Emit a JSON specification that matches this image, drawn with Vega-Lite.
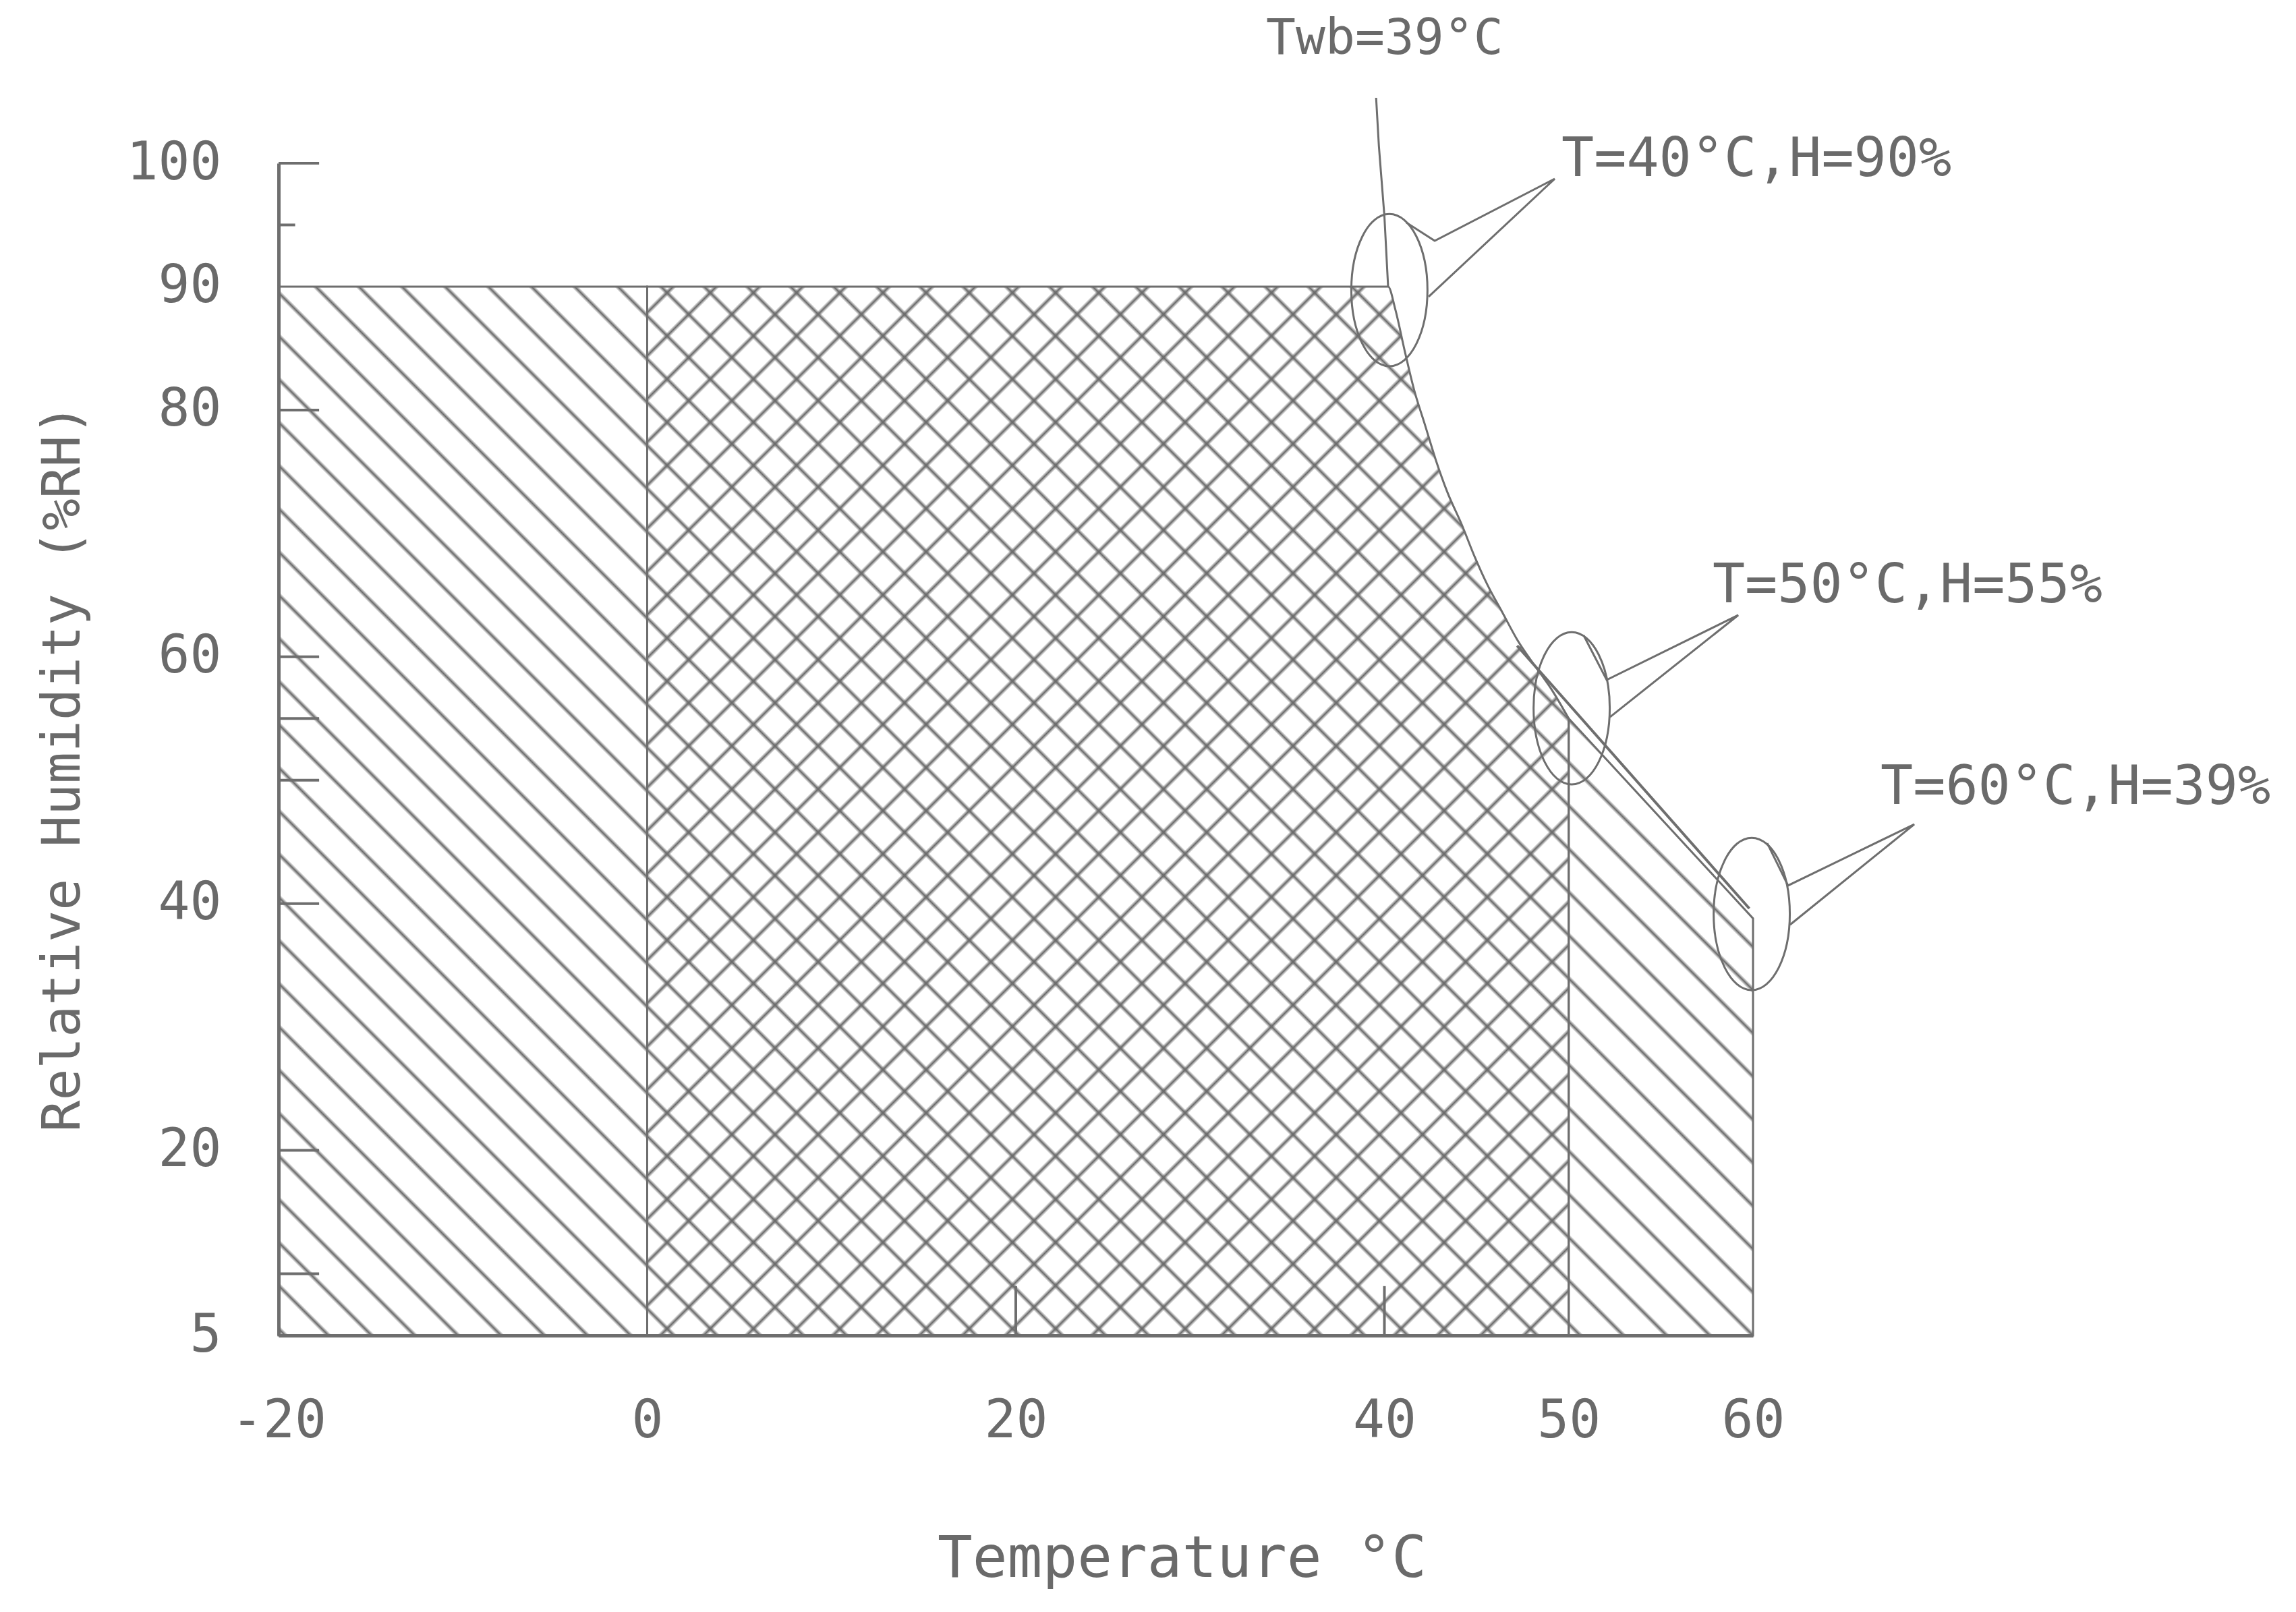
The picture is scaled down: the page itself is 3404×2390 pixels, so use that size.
{
"$schema":"https://vega.github.io/schema/vega-lite/v6.json",
"width":2186,"height":1738,
"autosize":{"type":"none"},
"padding":{"left":413,"top":242,"right":805,"bottom":410},
"background":"white",
"config":{"view":{"stroke":null}},
"datasets":{
"curve":[{"x":0,"y":90},{"x":40.2,"y":90},{"x":40.6,"y":88.1},{"x":41.1,"y":84.8},{"x":41.6,"y":81.7},{"x":42.2,"y":78.8},{"x":42.8,"y":75.9},{"x":43.4,"y":73.4},{"x":44.2,"y":70.7},{"x":44.9,"y":68.1},{"x":45.6,"y":65.8},{"x":46.4,"y":63.6},{"x":47.2,"y":61.4},{"x":48.1,"y":59.4},{"x":49.05,"y":57.4},{"x":50,"y":55}]
},
"encoding":{
"x":{"field":"x","type":"quantitative","scale":{"domain":[-20,60],"nice":false,"zero":false},
"axis":{"values":[-20,0,20,40,50,60],"labelExpr":"'' + datum.value","ticks":false,"grid":false,"domain":true,"domainColor":"#6e6e6e","domainWidth":5,"labelFont":"DejaVu Sans Mono","labelFontSize":78,"labelColor":"#6a6a6a","labelPadding":88,"labelFlush":false,"labelOverlap":false,"labelBound":false,
"title":"Temperature °C","titleFont":"DejaVu Sans Mono","titleFontSize":86,"titleFontWeight":"normal","titleColor":"#6a6a6a","titleX":1339,"titleY":357,"titleAlign":"center","titleBaseline":"alphabetic"}},
"y":{"field":"y","type":"quantitative","scale":{"domain":[5,100],"nice":false,"zero":false},
"axis":{"values":[5,20,40,60,80,90,100],"ticks":false,"grid":false,"domain":true,"domainColor":"#6e6e6e","domainWidth":5,"labelFont":"DejaVu Sans Mono","labelFontSize":78,"labelColor":"#6a6a6a","labelPadding":85,"labelFlush":false,"labelOverlap":false,"labelBound":false,"labelBaseline":"middle",
"title":"Relative Humidity (%RH)","titleFont":"DejaVu Sans Mono","titleFontSize":78,"titleFontWeight":"normal","titleColor":"#6a6a6a","titleX":-296,"titleY":896,"titleAngle":270,"titleAlign":"center","titleBaseline":"alphabetic"}}
},
"layer":[
{"data":{"values":[{"x":-20,"x2":0,"y":90,"y2":5}]},
"mark":{"type":"rect","stroke":"#6e6e6e","strokeWidth":3,"fill":{"gradient":"linear","x1":0,"y1":1,"x2":0.42272,"y2":-0.20287,"stops":[
{"offset":0.00193,"color":"#6a6a6a00"},{"offset":0.00478,"color":"#6a6a6a"},{"offset":0.00763,"color":"#6a6a6a00"},
{"offset":0.03239,"color":"#6a6a6a00"},{"offset":0.03524,"color":"#6a6a6a"},{"offset":0.03809,"color":"#6a6a6a00"},
{"offset":0.06284,"color":"#6a6a6a00"},{"offset":0.06569,"color":"#6a6a6a"},{"offset":0.06854,"color":"#6a6a6a00"},
{"offset":0.09329,"color":"#6a6a6a00"},{"offset":0.09614,"color":"#6a6a6a"},{"offset":0.09899,"color":"#6a6a6a00"},
{"offset":0.12375,"color":"#6a6a6a00"},{"offset":0.12660,"color":"#6a6a6a"},{"offset":0.12945,"color":"#6a6a6a00"},
{"offset":0.15420,"color":"#6a6a6a00"},{"offset":0.15705,"color":"#6a6a6a"},{"offset":0.15990,"color":"#6a6a6a00"},
{"offset":0.18465,"color":"#6a6a6a00"},{"offset":0.18750,"color":"#6a6a6a"},{"offset":0.19035,"color":"#6a6a6a00"},
{"offset":0.21510,"color":"#6a6a6a00"},{"offset":0.21795,"color":"#6a6a6a"},{"offset":0.22080,"color":"#6a6a6a00"},
{"offset":0.24556,"color":"#6a6a6a00"},{"offset":0.24841,"color":"#6a6a6a"},{"offset":0.25126,"color":"#6a6a6a00"},
{"offset":0.27601,"color":"#6a6a6a00"},{"offset":0.27886,"color":"#6a6a6a"},{"offset":0.28171,"color":"#6a6a6a00"},
{"offset":0.30646,"color":"#6a6a6a00"},{"offset":0.30931,"color":"#6a6a6a"},{"offset":0.31216,"color":"#6a6a6a00"},
{"offset":0.33692,"color":"#6a6a6a00"},{"offset":0.33977,"color":"#6a6a6a"},{"offset":0.34262,"color":"#6a6a6a00"},
{"offset":0.36737,"color":"#6a6a6a00"},{"offset":0.37022,"color":"#6a6a6a"},{"offset":0.37307,"color":"#6a6a6a00"},
{"offset":0.39782,"color":"#6a6a6a00"},{"offset":0.40067,"color":"#6a6a6a"},{"offset":0.40352,"color":"#6a6a6a00"},
{"offset":0.42827,"color":"#6a6a6a00"},{"offset":0.43112,"color":"#6a6a6a"},{"offset":0.43397,"color":"#6a6a6a00"},
{"offset":0.45873,"color":"#6a6a6a00"},{"offset":0.46158,"color":"#6a6a6a"},{"offset":0.46443,"color":"#6a6a6a00"},
{"offset":0.48918,"color":"#6a6a6a00"},{"offset":0.49203,"color":"#6a6a6a"},{"offset":0.49488,"color":"#6a6a6a00"},
{"offset":0.51963,"color":"#6a6a6a00"},{"offset":0.52248,"color":"#6a6a6a"},{"offset":0.52533,"color":"#6a6a6a00"},
{"offset":0.55009,"color":"#6a6a6a00"},{"offset":0.55294,"color":"#6a6a6a"},{"offset":0.55579,"color":"#6a6a6a00"},
{"offset":0.58054,"color":"#6a6a6a00"},{"offset":0.58339,"color":"#6a6a6a"},{"offset":0.58624,"color":"#6a6a6a00"},
{"offset":0.61099,"color":"#6a6a6a00"},{"offset":0.61384,"color":"#6a6a6a"},{"offset":0.61669,"color":"#6a6a6a00"},
{"offset":0.64144,"color":"#6a6a6a00"},{"offset":0.64429,"color":"#6a6a6a"},{"offset":0.64714,"color":"#6a6a6a00"},
{"offset":0.67190,"color":"#6a6a6a00"},{"offset":0.67475,"color":"#6a6a6a"},{"offset":0.67760,"color":"#6a6a6a00"},
{"offset":0.70235,"color":"#6a6a6a00"},{"offset":0.70520,"color":"#6a6a6a"},{"offset":0.70805,"color":"#6a6a6a00"},
{"offset":0.73280,"color":"#6a6a6a00"},{"offset":0.73565,"color":"#6a6a6a"},{"offset":0.73850,"color":"#6a6a6a00"},
{"offset":0.76326,"color":"#6a6a6a00"},{"offset":0.76611,"color":"#6a6a6a"},{"offset":0.76896,"color":"#6a6a6a00"},
{"offset":0.79371,"color":"#6a6a6a00"},{"offset":0.79656,"color":"#6a6a6a"},{"offset":0.79941,"color":"#6a6a6a00"},
{"offset":0.82416,"color":"#6a6a6a00"},{"offset":0.82701,"color":"#6a6a6a"},{"offset":0.82986,"color":"#6a6a6a00"},
{"offset":0.85462,"color":"#6a6a6a00"},{"offset":0.85747,"color":"#6a6a6a"},{"offset":0.86032,"color":"#6a6a6a00"},
{"offset":0.88507,"color":"#6a6a6a00"},{"offset":0.88792,"color":"#6a6a6a"},{"offset":0.89077,"color":"#6a6a6a00"},
{"offset":0.91552,"color":"#6a6a6a00"},{"offset":0.91837,"color":"#6a6a6a"},{"offset":0.92122,"color":"#6a6a6a00"},
{"offset":0.94597,"color":"#6a6a6a00"},{"offset":0.94882,"color":"#6a6a6a"},{"offset":0.95167,"color":"#6a6a6a00"},
{"offset":0.97643,"color":"#6a6a6a00"},{"offset":0.97928,"color":"#6a6a6a"},{"offset":0.98213,"color":"#6a6a6a00"}
]}},
"encoding":{"x2":{"field":"x2"},"y2":{"field":"y2"}}},
{"data":{"name":"curve"},
"mark":{"type":"area","interpolate":"monotone","fill":{"gradient":"linear","x1":0,"y1":0,"x2":0.93146,"y2":1.06021,"stops":[
{"offset":0.01115,"color":"#6a6a6a00"},{"offset":0.01320,"color":"#6a6a6a"},{"offset":0.01525,"color":"#6a6a6a00"},
{"offset":0.03305,"color":"#6a6a6a00"},{"offset":0.03510,"color":"#6a6a6a"},{"offset":0.03715,"color":"#6a6a6a00"},
{"offset":0.05496,"color":"#6a6a6a00"},{"offset":0.05701,"color":"#6a6a6a"},{"offset":0.05906,"color":"#6a6a6a00"},
{"offset":0.07687,"color":"#6a6a6a00"},{"offset":0.07892,"color":"#6a6a6a"},{"offset":0.08097,"color":"#6a6a6a00"},
{"offset":0.09878,"color":"#6a6a6a00"},{"offset":0.10083,"color":"#6a6a6a"},{"offset":0.10288,"color":"#6a6a6a00"},
{"offset":0.12069,"color":"#6a6a6a00"},{"offset":0.12274,"color":"#6a6a6a"},{"offset":0.12479,"color":"#6a6a6a00"},
{"offset":0.14259,"color":"#6a6a6a00"},{"offset":0.14464,"color":"#6a6a6a"},{"offset":0.14669,"color":"#6a6a6a00"},
{"offset":0.16450,"color":"#6a6a6a00"},{"offset":0.16655,"color":"#6a6a6a"},{"offset":0.16860,"color":"#6a6a6a00"},
{"offset":0.18641,"color":"#6a6a6a00"},{"offset":0.18846,"color":"#6a6a6a"},{"offset":0.19051,"color":"#6a6a6a00"},
{"offset":0.20832,"color":"#6a6a6a00"},{"offset":0.21037,"color":"#6a6a6a"},{"offset":0.21242,"color":"#6a6a6a00"},
{"offset":0.23023,"color":"#6a6a6a00"},{"offset":0.23228,"color":"#6a6a6a"},{"offset":0.23433,"color":"#6a6a6a00"},
{"offset":0.25213,"color":"#6a6a6a00"},{"offset":0.25418,"color":"#6a6a6a"},{"offset":0.25623,"color":"#6a6a6a00"},
{"offset":0.27404,"color":"#6a6a6a00"},{"offset":0.27609,"color":"#6a6a6a"},{"offset":0.27814,"color":"#6a6a6a00"},
{"offset":0.29595,"color":"#6a6a6a00"},{"offset":0.29800,"color":"#6a6a6a"},{"offset":0.30005,"color":"#6a6a6a00"},
{"offset":0.31786,"color":"#6a6a6a00"},{"offset":0.31991,"color":"#6a6a6a"},{"offset":0.32196,"color":"#6a6a6a00"},
{"offset":0.33977,"color":"#6a6a6a00"},{"offset":0.34182,"color":"#6a6a6a"},{"offset":0.34387,"color":"#6a6a6a00"},
{"offset":0.36167,"color":"#6a6a6a00"},{"offset":0.36372,"color":"#6a6a6a"},{"offset":0.36577,"color":"#6a6a6a00"},
{"offset":0.38358,"color":"#6a6a6a00"},{"offset":0.38563,"color":"#6a6a6a"},{"offset":0.38768,"color":"#6a6a6a00"},
{"offset":0.40549,"color":"#6a6a6a00"},{"offset":0.40754,"color":"#6a6a6a"},{"offset":0.40959,"color":"#6a6a6a00"},
{"offset":0.42740,"color":"#6a6a6a00"},{"offset":0.42945,"color":"#6a6a6a"},{"offset":0.43150,"color":"#6a6a6a00"},
{"offset":0.44931,"color":"#6a6a6a00"},{"offset":0.45136,"color":"#6a6a6a"},{"offset":0.45341,"color":"#6a6a6a00"},
{"offset":0.47121,"color":"#6a6a6a00"},{"offset":0.47326,"color":"#6a6a6a"},{"offset":0.47531,"color":"#6a6a6a00"},
{"offset":0.49312,"color":"#6a6a6a00"},{"offset":0.49517,"color":"#6a6a6a"},{"offset":0.49722,"color":"#6a6a6a00"},
{"offset":0.51503,"color":"#6a6a6a00"},{"offset":0.51708,"color":"#6a6a6a"},{"offset":0.51913,"color":"#6a6a6a00"},
{"offset":0.53694,"color":"#6a6a6a00"},{"offset":0.53899,"color":"#6a6a6a"},{"offset":0.54104,"color":"#6a6a6a00"},
{"offset":0.55885,"color":"#6a6a6a00"},{"offset":0.56090,"color":"#6a6a6a"},{"offset":0.56295,"color":"#6a6a6a00"},
{"offset":0.58075,"color":"#6a6a6a00"},{"offset":0.58280,"color":"#6a6a6a"},{"offset":0.58485,"color":"#6a6a6a00"},
{"offset":0.60266,"color":"#6a6a6a00"},{"offset":0.60471,"color":"#6a6a6a"},{"offset":0.60676,"color":"#6a6a6a00"},
{"offset":0.62457,"color":"#6a6a6a00"},{"offset":0.62662,"color":"#6a6a6a"},{"offset":0.62867,"color":"#6a6a6a00"},
{"offset":0.64648,"color":"#6a6a6a00"},{"offset":0.64853,"color":"#6a6a6a"},{"offset":0.65058,"color":"#6a6a6a00"},
{"offset":0.66839,"color":"#6a6a6a00"},{"offset":0.67044,"color":"#6a6a6a"},{"offset":0.67249,"color":"#6a6a6a00"},
{"offset":0.69029,"color":"#6a6a6a00"},{"offset":0.69234,"color":"#6a6a6a"},{"offset":0.69439,"color":"#6a6a6a00"},
{"offset":0.71220,"color":"#6a6a6a00"},{"offset":0.71425,"color":"#6a6a6a"},{"offset":0.71630,"color":"#6a6a6a00"},
{"offset":0.73411,"color":"#6a6a6a00"},{"offset":0.73616,"color":"#6a6a6a"},{"offset":0.73821,"color":"#6a6a6a00"},
{"offset":0.75602,"color":"#6a6a6a00"},{"offset":0.75807,"color":"#6a6a6a"},{"offset":0.76012,"color":"#6a6a6a00"},
{"offset":0.77793,"color":"#6a6a6a00"},{"offset":0.77998,"color":"#6a6a6a"},{"offset":0.78203,"color":"#6a6a6a00"},
{"offset":0.79983,"color":"#6a6a6a00"},{"offset":0.80188,"color":"#6a6a6a"},{"offset":0.80393,"color":"#6a6a6a00"},
{"offset":0.82174,"color":"#6a6a6a00"},{"offset":0.82379,"color":"#6a6a6a"},{"offset":0.82584,"color":"#6a6a6a00"},
{"offset":0.84365,"color":"#6a6a6a00"},{"offset":0.84570,"color":"#6a6a6a"},{"offset":0.84775,"color":"#6a6a6a00"},
{"offset":0.86556,"color":"#6a6a6a00"},{"offset":0.86761,"color":"#6a6a6a"},{"offset":0.86966,"color":"#6a6a6a00"},
{"offset":0.88747,"color":"#6a6a6a00"},{"offset":0.88952,"color":"#6a6a6a"},{"offset":0.89157,"color":"#6a6a6a00"},
{"offset":0.90937,"color":"#6a6a6a00"},{"offset":0.91142,"color":"#6a6a6a"},{"offset":0.91347,"color":"#6a6a6a00"},
{"offset":0.93128,"color":"#6a6a6a00"},{"offset":0.93333,"color":"#6a6a6a"},{"offset":0.93538,"color":"#6a6a6a00"},
{"offset":0.95319,"color":"#6a6a6a00"},{"offset":0.95524,"color":"#6a6a6a"},{"offset":0.95729,"color":"#6a6a6a00"},
{"offset":0.97510,"color":"#6a6a6a00"},{"offset":0.97715,"color":"#6a6a6a"},{"offset":0.97920,"color":"#6a6a6a00"}
]}},
"encoding":{"y2":{"datum":5}}},
{"data":{"name":"curve"},
"mark":{"type":"area","interpolate":"monotone","stroke":"#6e6e6e","strokeWidth":3,"fill":{"gradient":"linear","x1":0,"y1":1,"x2":0.93146,"y2":-0.06021,"stops":[
{"offset":0.01149,"color":"#6a6a6a00"},{"offset":0.01354,"color":"#6a6a6a"},{"offset":0.01559,"color":"#6a6a6a00"},
{"offset":0.03340,"color":"#6a6a6a00"},{"offset":0.03545,"color":"#6a6a6a"},{"offset":0.03750,"color":"#6a6a6a00"},
{"offset":0.05531,"color":"#6a6a6a00"},{"offset":0.05736,"color":"#6a6a6a"},{"offset":0.05941,"color":"#6a6a6a00"},
{"offset":0.07721,"color":"#6a6a6a00"},{"offset":0.07926,"color":"#6a6a6a"},{"offset":0.08131,"color":"#6a6a6a00"},
{"offset":0.09912,"color":"#6a6a6a00"},{"offset":0.10117,"color":"#6a6a6a"},{"offset":0.10322,"color":"#6a6a6a00"},
{"offset":0.12103,"color":"#6a6a6a00"},{"offset":0.12308,"color":"#6a6a6a"},{"offset":0.12513,"color":"#6a6a6a00"},
{"offset":0.14294,"color":"#6a6a6a00"},{"offset":0.14499,"color":"#6a6a6a"},{"offset":0.14704,"color":"#6a6a6a00"},
{"offset":0.16485,"color":"#6a6a6a00"},{"offset":0.16690,"color":"#6a6a6a"},{"offset":0.16895,"color":"#6a6a6a00"},
{"offset":0.18675,"color":"#6a6a6a00"},{"offset":0.18880,"color":"#6a6a6a"},{"offset":0.19085,"color":"#6a6a6a00"},
{"offset":0.20866,"color":"#6a6a6a00"},{"offset":0.21071,"color":"#6a6a6a"},{"offset":0.21276,"color":"#6a6a6a00"},
{"offset":0.23057,"color":"#6a6a6a00"},{"offset":0.23262,"color":"#6a6a6a"},{"offset":0.23467,"color":"#6a6a6a00"},
{"offset":0.25248,"color":"#6a6a6a00"},{"offset":0.25453,"color":"#6a6a6a"},{"offset":0.25658,"color":"#6a6a6a00"},
{"offset":0.27439,"color":"#6a6a6a00"},{"offset":0.27644,"color":"#6a6a6a"},{"offset":0.27849,"color":"#6a6a6a00"},
{"offset":0.29629,"color":"#6a6a6a00"},{"offset":0.29834,"color":"#6a6a6a"},{"offset":0.30039,"color":"#6a6a6a00"},
{"offset":0.31820,"color":"#6a6a6a00"},{"offset":0.32025,"color":"#6a6a6a"},{"offset":0.32230,"color":"#6a6a6a00"},
{"offset":0.34011,"color":"#6a6a6a00"},{"offset":0.34216,"color":"#6a6a6a"},{"offset":0.34421,"color":"#6a6a6a00"},
{"offset":0.36202,"color":"#6a6a6a00"},{"offset":0.36407,"color":"#6a6a6a"},{"offset":0.36612,"color":"#6a6a6a00"},
{"offset":0.38393,"color":"#6a6a6a00"},{"offset":0.38598,"color":"#6a6a6a"},{"offset":0.38803,"color":"#6a6a6a00"},
{"offset":0.40583,"color":"#6a6a6a00"},{"offset":0.40788,"color":"#6a6a6a"},{"offset":0.40993,"color":"#6a6a6a00"},
{"offset":0.42774,"color":"#6a6a6a00"},{"offset":0.42979,"color":"#6a6a6a"},{"offset":0.43184,"color":"#6a6a6a00"},
{"offset":0.44965,"color":"#6a6a6a00"},{"offset":0.45170,"color":"#6a6a6a"},{"offset":0.45375,"color":"#6a6a6a00"},
{"offset":0.47156,"color":"#6a6a6a00"},{"offset":0.47361,"color":"#6a6a6a"},{"offset":0.47566,"color":"#6a6a6a00"},
{"offset":0.49347,"color":"#6a6a6a00"},{"offset":0.49552,"color":"#6a6a6a"},{"offset":0.49757,"color":"#6a6a6a00"},
{"offset":0.51537,"color":"#6a6a6a00"},{"offset":0.51742,"color":"#6a6a6a"},{"offset":0.51947,"color":"#6a6a6a00"},
{"offset":0.53728,"color":"#6a6a6a00"},{"offset":0.53933,"color":"#6a6a6a"},{"offset":0.54138,"color":"#6a6a6a00"},
{"offset":0.55919,"color":"#6a6a6a00"},{"offset":0.56124,"color":"#6a6a6a"},{"offset":0.56329,"color":"#6a6a6a00"},
{"offset":0.58110,"color":"#6a6a6a00"},{"offset":0.58315,"color":"#6a6a6a"},{"offset":0.58520,"color":"#6a6a6a00"},
{"offset":0.60300,"color":"#6a6a6a00"},{"offset":0.60505,"color":"#6a6a6a"},{"offset":0.60710,"color":"#6a6a6a00"},
{"offset":0.62491,"color":"#6a6a6a00"},{"offset":0.62696,"color":"#6a6a6a"},{"offset":0.62901,"color":"#6a6a6a00"},
{"offset":0.64682,"color":"#6a6a6a00"},{"offset":0.64887,"color":"#6a6a6a"},{"offset":0.65092,"color":"#6a6a6a00"},
{"offset":0.66873,"color":"#6a6a6a00"},{"offset":0.67078,"color":"#6a6a6a"},{"offset":0.67283,"color":"#6a6a6a00"},
{"offset":0.69064,"color":"#6a6a6a00"},{"offset":0.69269,"color":"#6a6a6a"},{"offset":0.69474,"color":"#6a6a6a00"},
{"offset":0.71254,"color":"#6a6a6a00"},{"offset":0.71459,"color":"#6a6a6a"},{"offset":0.71664,"color":"#6a6a6a00"},
{"offset":0.73445,"color":"#6a6a6a00"},{"offset":0.73650,"color":"#6a6a6a"},{"offset":0.73855,"color":"#6a6a6a00"},
{"offset":0.75636,"color":"#6a6a6a00"},{"offset":0.75841,"color":"#6a6a6a"},{"offset":0.76046,"color":"#6a6a6a00"},
{"offset":0.77827,"color":"#6a6a6a00"},{"offset":0.78032,"color":"#6a6a6a"},{"offset":0.78237,"color":"#6a6a6a00"},
{"offset":0.80018,"color":"#6a6a6a00"},{"offset":0.80223,"color":"#6a6a6a"},{"offset":0.80428,"color":"#6a6a6a00"},
{"offset":0.82208,"color":"#6a6a6a00"},{"offset":0.82413,"color":"#6a6a6a"},{"offset":0.82618,"color":"#6a6a6a00"},
{"offset":0.84399,"color":"#6a6a6a00"},{"offset":0.84604,"color":"#6a6a6a"},{"offset":0.84809,"color":"#6a6a6a00"},
{"offset":0.86590,"color":"#6a6a6a00"},{"offset":0.86795,"color":"#6a6a6a"},{"offset":0.87000,"color":"#6a6a6a00"},
{"offset":0.88781,"color":"#6a6a6a00"},{"offset":0.88986,"color":"#6a6a6a"},{"offset":0.89191,"color":"#6a6a6a00"},
{"offset":0.90972,"color":"#6a6a6a00"},{"offset":0.91177,"color":"#6a6a6a"},{"offset":0.91382,"color":"#6a6a6a00"},
{"offset":0.93162,"color":"#6a6a6a00"},{"offset":0.93367,"color":"#6a6a6a"},{"offset":0.93572,"color":"#6a6a6a00"},
{"offset":0.95353,"color":"#6a6a6a00"},{"offset":0.95558,"color":"#6a6a6a"},{"offset":0.95763,"color":"#6a6a6a00"},
{"offset":0.97544,"color":"#6a6a6a00"},{"offset":0.97749,"color":"#6a6a6a"},{"offset":0.97954,"color":"#6a6a6a00"}
]}},
"encoding":{"y2":{"datum":5}}},
{"data":{"values":[{"x":50,"y":55},{"x":60,"y":38.8}]},
"mark":{"type":"area","stroke":"#6e6e6e","strokeWidth":3,"fill":{"gradient":"linear","x1":0,"y1":1,"x2":0.35617,"y2":-0.19232,"stops":[
{"offset":0.00949,"color":"#6a6a6a00"},{"offset":0.01454,"color":"#6a6a6a"},{"offset":0.01959,"color":"#6a6a6a00"},
{"offset":0.06336,"color":"#6a6a6a00"},{"offset":0.06841,"color":"#6a6a6a"},{"offset":0.07346,"color":"#6a6a6a00"},
{"offset":0.11723,"color":"#6a6a6a00"},{"offset":0.12228,"color":"#6a6a6a"},{"offset":0.12733,"color":"#6a6a6a00"},
{"offset":0.17111,"color":"#6a6a6a00"},{"offset":0.17616,"color":"#6a6a6a"},{"offset":0.18121,"color":"#6a6a6a00"},
{"offset":0.22498,"color":"#6a6a6a00"},{"offset":0.23003,"color":"#6a6a6a"},{"offset":0.23508,"color":"#6a6a6a00"},
{"offset":0.27885,"color":"#6a6a6a00"},{"offset":0.28390,"color":"#6a6a6a"},{"offset":0.28895,"color":"#6a6a6a00"},
{"offset":0.33272,"color":"#6a6a6a00"},{"offset":0.33777,"color":"#6a6a6a"},{"offset":0.34282,"color":"#6a6a6a00"},
{"offset":0.38660,"color":"#6a6a6a00"},{"offset":0.39165,"color":"#6a6a6a"},{"offset":0.39670,"color":"#6a6a6a00"},
{"offset":0.44047,"color":"#6a6a6a00"},{"offset":0.44552,"color":"#6a6a6a"},{"offset":0.45057,"color":"#6a6a6a00"},
{"offset":0.49434,"color":"#6a6a6a00"},{"offset":0.49939,"color":"#6a6a6a"},{"offset":0.50444,"color":"#6a6a6a00"},
{"offset":0.54821,"color":"#6a6a6a00"},{"offset":0.55326,"color":"#6a6a6a"},{"offset":0.55831,"color":"#6a6a6a00"},
{"offset":0.60209,"color":"#6a6a6a00"},{"offset":0.60714,"color":"#6a6a6a"},{"offset":0.61219,"color":"#6a6a6a00"},
{"offset":0.65596,"color":"#6a6a6a00"},{"offset":0.66101,"color":"#6a6a6a"},{"offset":0.66606,"color":"#6a6a6a00"},
{"offset":0.70983,"color":"#6a6a6a00"},{"offset":0.71488,"color":"#6a6a6a"},{"offset":0.71993,"color":"#6a6a6a00"},
{"offset":0.76370,"color":"#6a6a6a00"},{"offset":0.76875,"color":"#6a6a6a"},{"offset":0.77380,"color":"#6a6a6a00"},
{"offset":0.81757,"color":"#6a6a6a00"},{"offset":0.82262,"color":"#6a6a6a"},{"offset":0.82767,"color":"#6a6a6a00"},
{"offset":0.87145,"color":"#6a6a6a00"},{"offset":0.87650,"color":"#6a6a6a"},{"offset":0.88155,"color":"#6a6a6a00"},
{"offset":0.92532,"color":"#6a6a6a00"},{"offset":0.93037,"color":"#6a6a6a"},{"offset":0.93542,"color":"#6a6a6a00"},
{"offset":0.97919,"color":"#6a6a6a00"},{"offset":0.98424,"color":"#6a6a6a"},{"offset":0.98929,"color":"#6a6a6a00"}
]}},
"encoding":{"y2":{"datum":5}}},
{"data":{"values":[{"x":47.2,"y":60.9},{"x":59.8,"y":39.6}]},
"mark":{"type":"line","stroke":"#6e6e6e","strokeWidth":4},
"encoding":{}},
{"data":{"values":[{"x":-20,"x2":-17.8,"y":100},{"x":-20,"x2":-19.1,"y":95},{"x":-20,"x2":-17.8,"y":80},{"x":-20,"x2":-17.8,"y":60},{"x":-20,"x2":-17.8,"y":55},{"x":-20,"x2":-17.8,"y":50},{"x":-20,"x2":-17.8,"y":40},{"x":-20,"x2":-17.8,"y":20},{"x":-20,"x2":-17.8,"y":10}]},
"mark":{"type":"rule","stroke":"#6e6e6e","strokeWidth":4},
"encoding":{"x2":{"field":"x2"}}},
{"data":{"values":[{"x":20,"y":5,"y2":9},{"x":40,"y":5,"y2":9}]},
"mark":{"type":"rule","stroke":"#6e6e6e","strokeWidth":4},
"encoding":{"y2":{"field":"y2"}}},
{"data":{"values":[{"x":39.55,"y":105.3,"i":1},{"x":39.7,"y":101.4,"i":2},{"x":40.0,"y":95.7,"i":3},{"x":40.2,"y":90,"i":4}]},
"mark":{"type":"line","stroke":"#6e6e6e","strokeWidth":3},
"encoding":{"order":{"field":"i"}}},
{"data":{"values":[
{"g":"a","i":1,"x":41.19,"y":95.19},{"g":"a","i":2,"x":42.73,"y":93.71},{"g":"a","i":3,"x":49.24,"y":98.74},{"g":"a","i":4,"x":42.40,"y":89.18},
{"g":"b","i":1,"x":50.81,"y":61.74},{"g":"b","i":2,"x":52.06,"y":58.13},{"g":"b","i":3,"x":59.20,"y":63.38},{"g":"b","i":4,"x":52.24,"y":55.12},
{"g":"c","i":1,"x":60.77,"y":44.90},{"g":"c","i":2,"x":61.90,"y":41.46},{"g":"c","i":3,"x":68.75,"y":46.43},{"g":"c","i":4,"x":62.01,"y":38.29}]},
"mark":{"type":"line","stroke":"#6e6e6e","strokeWidth":3},
"encoding":{"detail":{"field":"g"},"order":{"field":"i"}}},
{"data":{"values":[{"x":40.27,"y":89.72},{"x":50.16,"y":55.83},{"x":59.93,"y":39.16}]},
"mark":{"type":"point","filled":false,"stroke":"#6e6e6e","strokeWidth":3,"opacity":1,"size":51000,
"shape":"M0,-1C0.2761,-1 0.5,-0.5523 0.5,0C0.5,0.5523 0.2761,1 0,1C-0.2761,1 -0.5,0.5523 -0.5,0C-0.5,-0.5523 -0.2761,-1 0,-1Z"}},
{"data":{"values":[{"x":49.61,"y":100.27,"label":"T=40°C,H=90%"},{"x":57.80,"y":65.73,"label":"T=50°C,H=55%"},{"x":66.92,"y":49.38,"label":"T=60°C,H=39%"}]},
"mark":{"type":"text","align":"left","baseline":"middle","font":"DejaVu Sans Mono","fontSize":80,"fill":"#6a6a6a"},
"encoding":{"text":{"field":"label"}}},
{"data":{"values":[{"x":33.58,"y":110.06,"label":"Twb=39°C"}]},
"mark":{"type":"text","align":"left","baseline":"middle","font":"DejaVu Sans Mono","fontSize":73,"fill":"#6a6a6a"},
"encoding":{"text":{"field":"label"}}}
]
}
